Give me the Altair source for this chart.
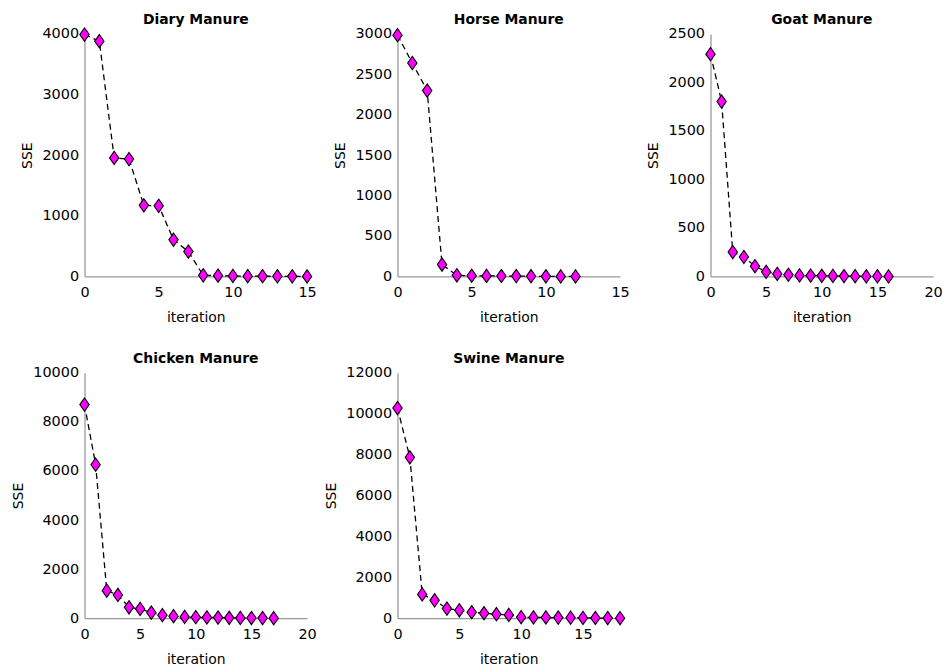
import altair as alt
import pandas as pd

# ---- data ----
titles = ["Diary Manure", "Horse Manure", "Goat Manure", "Chicken Manure", "Swine Manure"]

sse_diary = [3990, 3880, 1955, 1935, 1172, 1165, 605, 410, 18, 12, 8, 4, 3, 2, 1, 0]
sse_horse = [2985, 2640, 2300, 147, 14, 8, 6, 5, 4, 2, 1, 0, 0]
sse_goat = [2292, 1803, 251, 200, 105, 47, 26, 17, 10, 8, 6, 5, 3, 2, 1, 1, 0]
sse_chicken = [8703, 6257, 1122, 946, 446, 378, 230, 122, 81, 54, 40, 30, 25, 15, 10, 8, 5, 3]
sse_swine = [10275, 7864, 1165, 874, 469, 388, 291, 243, 194, 162, 50, 40, 35, 30, 25, 15, 10, 5, 3]

x_max = [15, 15, 20, 20, 18]
y_max = [4000, 3000, 2500, 10000, 12000]
y_ticks = [
    [0, 1000, 2000, 3000, 4000],
    [0, 500, 1000, 1500, 2000, 2500, 3000],
    [0, 500, 1000, 1500, 2000, 2500],
    [0, 2000, 4000, 6000, 8000, 10000],
    [0, 2000, 4000, 6000, 8000, 10000, 12000],
]
x_ticks = [
    [0, 5, 10, 15],
    [0, 5, 10, 15],
    [0, 5, 10, 15, 20],
    [0, 5, 10, 15, 20],
    [0, 5, 10, 15],
]
series = [sse_diary, sse_horse, sse_goat, sse_chicken, sse_swine]

FONT = "DejaVu Sans"
DIAMOND = "M0,-1L0.7,0L0,1L-0.7,0Z"


def panel(i, h):
    ys = series[i]
    df = pd.DataFrame({"iteration": list(range(len(ys))), "SSE": ys})
    x = alt.X(
        "iteration:Q",
        title="iteration",
        scale=alt.Scale(domain=[0, x_max[i]], nice=False, zero=True),
        axis=alt.Axis(values=x_ticks[i], format="d"),
    )
    y = alt.Y(
        "SSE:Q",
        title="SSE",
        scale=alt.Scale(domain=[0, y_max[i]], nice=False, zero=True),
        axis=alt.Axis(values=y_ticks[i], format="d"),
    )
    base = alt.Chart(df).encode(x=x, y=y)
    line = base.mark_line(color="black", strokeWidth=1.3, strokeDash=[6, 4])
    pts = base.mark_point(
        shape=DIAMOND, filled=True, fill="#ff00ff", stroke="black",
        strokeWidth=1.1, size=180, opacity=1,
    )
    return alt.layer(line, pts).properties(
        width=224, height=h,
        title=alt.TitleParams(titles[i], fontSize=14, fontWeight="bold", font=FONT, color="black"),
    )


panels = [panel(i, 244 if i < 3 else 247) for i in range(5)]

chart = alt.concat(*panels, columns=3, spacing={"row": 97, "column": 91}, bounds="flush").configure_view(
    stroke=None
).configure_axis(
    grid=False,
    ticks=False,
    domainColor="#999999",
    domainWidth=1.3,
    labelFont=FONT,
    labelFontSize=14.5,
    labelColor="black",
    titleFont=FONT,
    titleFontSize=14,
    titleFontWeight="normal",
    titleColor="black",
    labelFlush=False,
).configure_axisX(
    labelPadding=9, titlePadding=12
).configure_axisY(
    labelPadding=6, titlePadding=7
).configure_title(
    offset=-1, anchor="middle"
).properties(padding={"top": 2, "left": 3, "right": 0, "bottom": 0})

chart.save("out.html", embed_options={"renderer": "svg", "actions": False})
